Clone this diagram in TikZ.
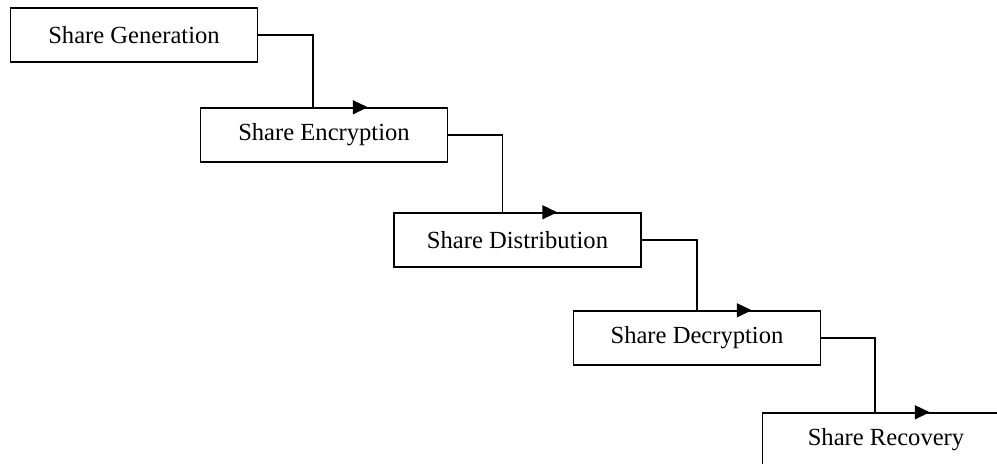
\documentclass[tikz,border=0pt]{standalone}
\usepackage{fontspec}
\setmainfont{Liberation Serif}
\usetikzlibrary{arrows.meta,positioning}

\begin{document}
\begin{tikzpicture}[
    stage/.style={draw=black, line width=0.8pt, minimum width=4.94cm, minimum height=1.08cm,
                  inner sep=0pt, font=\fontsize{14}{16}\selectfont},
    link/.style={draw=black, line width=0.8pt, -{Triangle[length=0.3cm,width=0.28cm]}}]
    \useasboundingbox (0,0) rectangle (19.94,-9.28);
    \clip (0,0) rectangle (19.94,-9.28);
    % the five stages
    \node [stage] (gen) at (2.68,-0.70) {Share Generation};
    \node [stage] (enc) at (6.48,-2.70) {Share Encryption};
    \node [stage] (dist) at (10.35,-4.80) {Share Distribution};
    \node [stage] (dec) at (13.94,-6.76) {Share Decryption};
    \node [stage] (rec) at (17.72,-8.80) {Share Recovery};
    % bends and arrow ends on the top edges
    \path (enc.north west) ++(2.26,0) coordinate (k1) ++(1.1,0) coordinate (t1);
    \path (dist.north west) ++(2.18,0) coordinate (k2) ++(1.1,0) coordinate (t2);
    \path (dec.north west) ++(2.48,0) coordinate (k3) ++(1.1,0) coordinate (t3);
    \path (rec.north west) ++(2.26,0) coordinate (k4) ++(1.1,0) coordinate (t4);
    \draw [link] (gen.east) -| (k1) -- (t1);
    \draw [link] (enc.east) -| (k2) -- (t2);
    \draw [link] (dist.east) -| (k3) -- (t3);
    \draw [link] (dec.east) -| (k4) -- (t4);
\end{tikzpicture}
\end{document}
